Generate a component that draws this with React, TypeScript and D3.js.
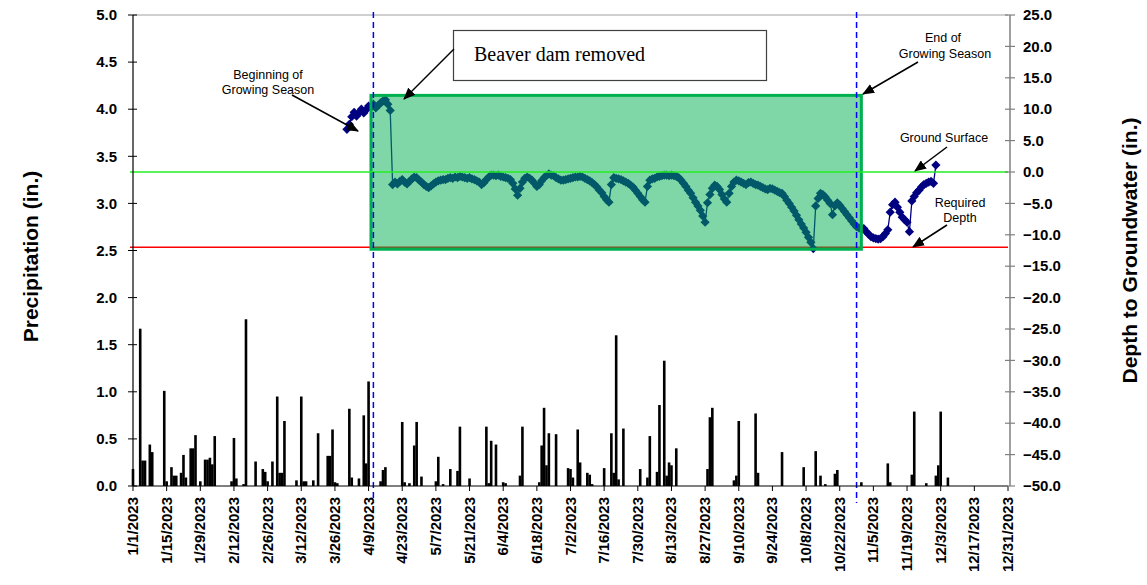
import React from "react";
import * as d3 from "d3";

// ---------- data ----------
const tickLabels = [
  "1/1/2023","1/15/2023","1/29/2023","2/12/2023","2/26/2023","3/12/2023","3/26/2023",
  "4/9/2023","4/23/2023","5/7/2023","5/21/2023","6/4/2023","6/18/2023","7/2/2023",
  "7/16/2023","7/30/2023","8/13/2023","8/27/2023","9/10/2023","9/24/2023","10/8/2023",
  "10/22/2023","11/5/2023","11/19/2023","12/3/2023","12/17/2023","12/31/2023",
];
const tickDays = tickLabels.map((_, i) => i * 14);

const precipDays = [
  0,3,4,5,7,8,13,14,16,17,18,20,21,22,24,25,26,28,30,31,32,33,34,41,42,43,46,47,51,54,55,56,58,
  60,61,62,63,68,70,71,72,75,77,81,82,83,84,85,90,91,94,96,97,98,103,104,105,112,113,115,117,118,
  120,126,127,129,132,135,136,140,147,148,149,151,154,155,161,162,169,170,171,172,173,176,181,182,
  183,185,186,189,190,191,196,199,200,201,202,204,211,214,215,218,219,221,222,223,224,226,239,240,
  241,250,251,252,259,260,270,279,284,286,288,292,293,303,314,315,324,325,330,334,335,336,339,
];
const precipValues = [
  0.18,1.67,0.27,0.27,0.44,0.36,1.01,0.05,0.2,0.11,0.11,0.14,0.33,0.09,0.4,0.4,0.54,0.05,0.28,0.28,0.3,0.23,0.53,0.05,0.51,0.08,0.02,1.77,0.26,0.18,0.15,0.05,0.26,
  0.95,0.14,0.14,0.69,0.06,0.95,0.05,0.05,0.06,0.56,0.32,0.32,0.6,0.04,0.03,0.82,0.09,0.08,0.75,0.24,1.11,0.05,0.17,0.2,0.68,0.04,0.03,0.43,0.68,
  0.1,0.05,0.31,0.02,0.18,0.16,0.63,0.08,0.63,0.03,0.48,0.44,0.04,0.03,0.11,0.63,0.04,0.43,0.83,0.22,0.56,0.55,0.19,0.18,
  0.09,0.6,0.25,0.14,0.12,0.02,0.19,0.56,0.14,1.6,0.07,0.61,0.18,0.09,0.53,0.15,0.86,1.33,0.11,0.25,0.22,0.4,0.18,0.73,
  0.83,0.06,0.11,0.69,0.77,0.14,0.36,0.2,0.37,0.11,0.02,0.13,0.17,0.04,0.24,0.04,0.12,0.79,0.03,0.11,0.22,0.79,0.09,
];

const gwStartDay = 89;
const gwValues = [
  6.8,7.6,8.8,9.5,8.9,9.4,10.0,9.4,9.9,10.5,
  10.3,10.8,10.2,10.6,11.0,11.3,11.5,10.8,9.8,-2.0,
  -1.6,-1.9,-1.5,-1.2,-1.6,-1.9,-1.5,-1.1,-0.8,-0.9,
  -1.3,-1.6,-2.0,-2.3,-2.5,-2.2,-1.9,-1.6,-1.4,-1.3,
  -1.2,-1.2,-1.0,-0.9,-1.0,-0.8,-0.9,-0.7,-0.8,-0.9,
  -1.0,-0.9,-1.1,-1.2,-1.4,-1.6,-2.0,-1.7,-1.2,-0.8,
  -0.5,-0.5,-0.6,-0.5,-0.7,-0.8,-0.9,-1.0,-1.2,-1.8,
  -2.7,-3.7,-2.6,-1.6,-1.0,-0.8,-1.0,-1.3,-1.8,-2.3,
  -2.0,-1.4,-0.9,-0.6,-0.3,-0.5,-0.6,-0.9,-1.1,-1.3,
  -1.3,-1.2,-1.1,-1.0,-0.9,-0.8,-0.8,-0.7,-0.8,-1.0,
  -1.2,-1.4,-1.7,-2.0,-2.4,-2.9,-3.3,-3.9,-4.4,-4.8,
  -2.0,-0.9,-1.0,-1.1,-1.2,-1.4,-1.6,-1.8,-2.1,-2.4,
  -2.9,-3.4,-3.9,-4.4,-4.8,-2.3,-1.3,-1.1,-1.0,-0.8,
  -0.7,-0.6,-0.5,-0.5,-0.6,-0.5,-0.6,-0.7,-0.9,-1.3,
  -1.8,-2.3,-2.9,-3.4,-4.1,-4.8,-5.4,-6.1,-7.0,-8.0,
  -4.9,-3.6,-2.6,-2.1,-2.3,-2.8,-3.6,-4.3,-4.8,-3.4,
  -2.3,-1.6,-1.3,-1.4,-1.6,-1.8,-2.0,-1.7,-1.6,-1.8,
  -2.0,-2.1,-2.3,-2.5,-2.7,-2.8,-2.6,-2.7,-2.9,-3.1,
  -3.3,-3.4,-3.9,-4.5,-5.0,-5.6,-6.2,-6.9,-7.6,-8.3,
  -8.9,-9.6,-10.4,-11.2,-12.2,-5.4,-4.2,-3.4,-3.6,-4.0,
  -4.5,-5.0,-6.8,-5.4,-4.9,-5.3,-5.8,-6.3,-6.8,-7.3,
  -7.8,-8.3,-8.7,-8.9,-9.1,-9.0,-9.5,-9.9,-10.3,-10.5,
  -10.6,-10.7,-10.6,-10.3,-9.8,-9.2,-6.4,-5.2,-4.8,-5.6,
  -6.4,-7.2,-7.6,-8.0,-9.5,-4.6,-3.9,-3.3,-2.9,-2.4,
  -2.0,-1.8,-1.6,-1.5,-1.8,1.1,
];

const leftTicks = [0, 0.5, 1, 1.5, 2, 2.5, 3, 3.5, 4, 4.5, 5];
const rightTicks = [-50, -45, -40, -35, -30, -25, -20, -15, -10, -5, 0, 5, 10, 15, 20, 25];

const groundSurface = 0;
const requiredDepth = -12;
const seasonStartDay = 100; // 4/11
const seasonEndDay = 301; // 10/29
const boxDays = [99, 303];
const boxDepths = [12.2, -12.3];

// ---------- layout ----------
const W = 1147, H = 585;
const L = 133, R = 1008, T = 15, B = 486;

const x = d3.scaleLinear().domain([0, 364]).range([L, R]);
const yL = d3.scaleLinear().domain([0, 5]).range([B, T]);
const yR = d3.scaleLinear().domain([-50, 25]).range([B, T]);

const gw = gwValues.map((v, i) => ({ d: gwStartDay + i, v }));
const line = d3.line<{ d: number; v: number }>().x((p) => x(p.d)).y((p) => yR(p.v));
const fmt = d3.format(".1f");

const tickFont = "Arial, 'Liberation Sans', sans-serif";

function Arrow({ x1, y1, x2, y2 }: { x1: number; y1: number; x2: number; y2: number }) {
  return <line x1={x1} y1={y1} x2={x2} y2={y2} stroke="#000" strokeWidth={1.5} markerEnd="url(#ah)" />;
}

export default function App() {
  const diamond = "M0,-4.6L4.6,0L0,4.6L-4.6,0Z";
  return (
    <svg width={W} height={H} style={{ position: "absolute", left: 0, top: 0, background: "#fff" }}>
      <defs>
        <marker id="ah" viewBox="0 0 12 10" refX="11" refY="5" markerWidth="12" markerHeight="10" markerUnits="userSpaceOnUse" orient="auto">
          <path d="M0,0L12,5L0,10Z" fill="#000" />
        </marker>
      </defs>

      {/* top border */}
      <line x1={L} x2={R} y1={T} y2={T} stroke="#a0a0a0" strokeWidth={1} />

      {/* precipitation bars */}
      {precipDays.map((d, i) => (
        <rect key={"b" + i} x={x(d) - 1.3} width={2.6} y={yL(precipValues[i])} height={B - yL(precipValues[i])} fill="#000" />
      ))}

      {/* required depth line */}
      <line x1={L - 3} x2={R} y1={yR(requiredDepth)} y2={yR(requiredDepth)} stroke="#ff0000" strokeWidth={1.5} />

      {/* groundwater series */}
      <path d={line(gw) || ""} fill="none" stroke="#000080" strokeWidth={1.3} />
      {gw.map((p, i) => (
        <path key={"g" + i} d={diamond} transform={`translate(${x(p.d)},${yR(p.v)})`} fill="#000080" />
      ))}

      {/* growing season box */}
      <rect
        x={x(boxDays[0])}
        y={yR(boxDepths[0])}
        width={x(boxDays[1]) - x(boxDays[0])}
        height={yR(boxDepths[1]) - yR(boxDepths[0])}
        fill="#00b050"
        fillOpacity={0.5}
        stroke="#00b050"
        strokeWidth={3}
      />

      {/* ground surface line */}
      <line x1={L - 3} x2={R} y1={yR(groundSurface)} y2={yR(groundSurface)} stroke="#22ee22" strokeWidth={1.5} />

      {/* season dashed lines */}
      {[seasonStartDay, seasonEndDay].map((d, i) => (
        <line key={"s" + i} x1={x(d)} x2={x(d)} y1={12} y2={503} stroke="#0000ff" strokeWidth={1.5} strokeDasharray="6,4" />
      ))}

      {/* x axis */}
      <line x1={L} x2={R} y1={B} y2={B} stroke="#000" strokeWidth={1.2} />
      {tickDays.map((d, i) => (
        <g key={"xt" + i}>
          <line x1={x(d)} x2={x(d)} y1={B} y2={B + 5} stroke="#000" />
          <text
            transform={`translate(${x(d) + 5},${B + 11}) rotate(-90)`}
            textAnchor="end"
            fontFamily={tickFont}
            fontWeight="bold"
            fontSize={15}
            fill="#000"
          >
            {tickLabels[i]}
          </text>
        </g>
      ))}

      {/* left axis */}
      <line x1={L} x2={L} y1={T} y2={B} stroke="#000" strokeWidth={1.2} />
      {leftTicks.map((v, i) => (
        <g key={"yl" + i}>
          <line x1={L - 5} x2={L + 4} y1={yL(v)} y2={yL(v)} stroke="#000" />
          <text x={117} y={yL(v)} dy="0.35em" textAnchor="end" fontFamily={tickFont} fontWeight="bold" fontSize={15}>
            {fmt(v)}
          </text>
        </g>
      ))}

      {/* right axis */}
      <line x1={R + 2} x2={R + 2} y1={T} y2={B} stroke="#808080" strokeWidth={1.5} />
      {rightTicks.map((v, i) => (
        <g key={"yr" + i}>
          <line x1={R - 3} x2={R + 7} y1={yR(v)} y2={yR(v)} stroke="#808080" strokeWidth={1.2} />
          <text x={1023} y={yR(v)} dy="0.35em" textAnchor="start" fontFamily={tickFont} fontWeight="bold" fontSize={15}>
            {fmt(v)}
          </text>
        </g>
      ))}

      {/* axis titles */}
      <text transform={`translate(38,${(T + B) / 2 + 6}) rotate(-90)`} textAnchor="middle" fontFamily={tickFont} fontWeight="bold" fontSize={21}>
        Precipitation (in.)
      </text>
      <text transform={`translate(1137,${(T + B) / 2}) rotate(-90)`} textAnchor="middle" fontFamily={tickFont} fontWeight="bold" fontSize={21}>
        Depth to Groundwater (in.)
      </text>

      {/* annotations */}
      <g fontFamily={tickFont} fontSize={12.5} textAnchor="middle" fill="#000">
        <text x={268} y={79}>Beginning of</text>
        <text x={268} y={94}>Growing Season</text>
        <text x={943} y={42}>End of</text>
        <text x={945} y={58}>Growing Season</text>
        <text x={944} y={142}>Ground Surface</text>
        <text x={960} y={207}>Required</text>
        <text x={960} y={222}>Depth</text>
      </g>
      <Arrow x1={292} y1={95} x2={358} y2={131} />
      <Arrow x1={918} y1={62} x2={863} y2={94} />
      <Arrow x1={947} y1={147} x2={915} y2={171} />
      <Arrow x1={947} y1={225} x2={913} y2={247} />

      <rect x={453.5} y={30.5} width={313} height={50} fill="#fff" stroke="#404040" strokeWidth={1.2} />
      <text x={474} y={61} fontFamily="'Liberation Serif', 'Times New Roman', serif" fontSize={20}>
        Beaver dam removed
      </text>
      <Arrow x1={454} y1={49} x2={404} y2={99} />
    </svg>
  );
}
